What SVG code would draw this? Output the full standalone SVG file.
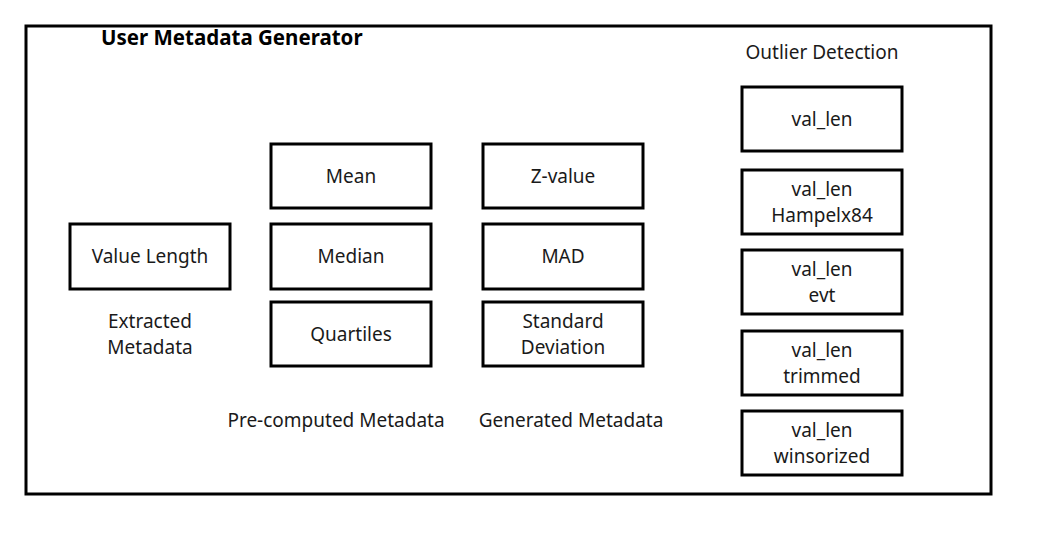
<svg xmlns="http://www.w3.org/2000/svg" width="1039" height="539" viewBox="0 0 1039 539">
<style>
.box{fill:#fff;stroke:#000;stroke-width:3}
.t{font-family:"Noto Sans","Open Sans",sans-serif;font-size:19px;fill:#1a1a1a;text-anchor:middle}
.title{font-family:"Noto Sans","Open Sans",sans-serif;font-size:20.5px;font-weight:bold;fill:#000}
</style>
<rect width="1039" height="539" fill="#fff"/>
<g id="frame">
<rect x="26" y="26" width="965" height="468" fill="none" stroke="#000" stroke-width="3"/>
<text class="title" x="101" y="45">User Metadata Generator</text>
</g>
<g id="value-length"><rect class="box" x="70" y="224" width="160" height="65"/><text class="t" x="150" y="263">Value Length</text></g>
<g id="mean"><rect class="box" x="271" y="144" width="160" height="64"/><text class="t" x="351" y="183">Mean</text></g>
<g id="median"><rect class="box" x="271" y="224" width="160" height="65"/><text class="t" x="351" y="263">Median</text></g>
<g id="quartiles"><rect class="box" x="271" y="302" width="160" height="64"/><text class="t" x="351" y="341">Quartiles</text></g>
<g id="zvalue"><rect class="box" x="483" y="144" width="160" height="64"/><text class="t" x="563" y="183">Z-value</text></g>
<g id="mad"><rect class="box" x="483" y="224" width="160" height="65"/><text class="t" x="563" y="263">MAD</text></g>
<g id="stddev"><rect class="box" x="483" y="302" width="160" height="64"/><text class="t" x="563" y="328">Standard</text><text class="t" x="563" y="354">Deviation</text></g>
<g id="o1"><rect class="box" x="742" y="87" width="160" height="64"/><text class="t" x="822" y="126">val_len</text></g>
<g id="o2"><rect class="box" x="742" y="170" width="160" height="64"/><text class="t" x="822" y="196">val_len</text><text class="t" x="822" y="222">Hampelx84</text></g>
<g id="o3"><rect class="box" x="742" y="250" width="160" height="64"/><text class="t" x="822" y="276">val_len</text><text class="t" x="822" y="302">evt</text></g>
<g id="o4"><rect class="box" x="742" y="331" width="160" height="64"/><text class="t" x="822" y="357">val_len</text><text class="t" x="822" y="383">trimmed</text></g>
<g id="o5"><rect class="box" x="742" y="411" width="160" height="64"/><text class="t" x="822" y="437">val_len</text><text class="t" x="822" y="463">winsorized</text></g>
<g id="labels">
<text class="t" x="150" y="328">Extracted</text><text class="t" x="150" y="354">Metadata</text>
<text class="t" x="336" y="427">Pre-computed Metadata</text>
<text class="t" x="571" y="427">Generated Metadata</text>
<text class="t" x="822" y="59">Outlier Detection</text>
</g>
<g id="connectors"/>
</svg>
